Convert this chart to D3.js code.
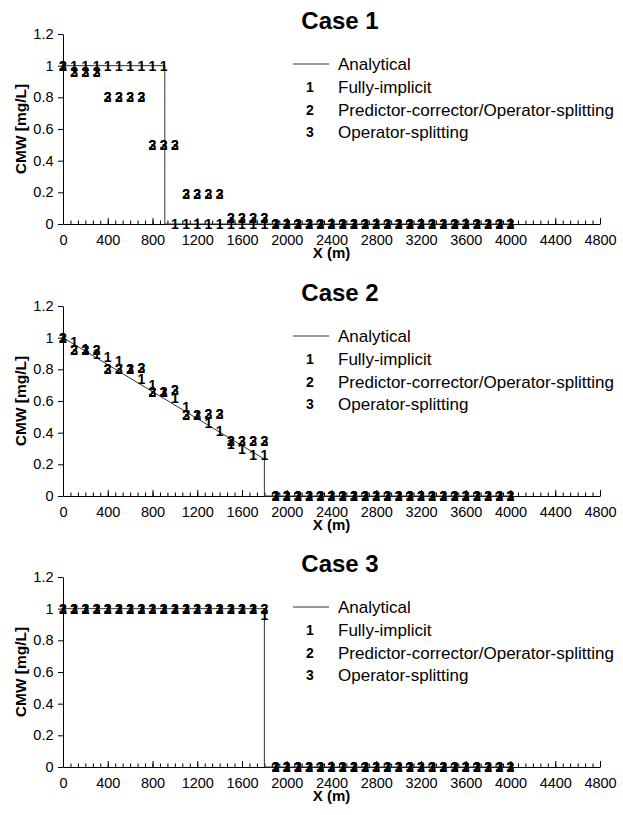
<!DOCTYPE html>
<html>
<head>
<meta charset="utf-8">
<script src="https://cdn.jsdelivr.net/npm/d3@7"></script>
<style>
  body { margin: 0; background: #fff; }
  svg { display: block; font-family: "Liberation Sans", Arial, sans-serif; }
</style>
</head>
<body>
<svg id="drawing"></svg>
<script>
// sample positions (m)
const xMeters = [
    0, 100, 200, 300, 400, 500, 600, 700, 800, 900,
    1000, 1100, 1200, 1300, 1400, 1500, 1600, 1700, 1800, 1900,
    2000, 2100, 2200, 2300, 2400, 2500, 2600, 2700, 2800, 2900,
    3000, 3100, 3200, 3300, 3400, 3500, 3600, 3700, 3800, 3900,
    4000];

// Case 1
const case1Fully = [
    1, 1, 1, 1, 1, 1, 1, 1, 1, 1,
    0, 0, 0, 0, 0, 0, 0, 0, 0, 0,
    0, 0, 0, 0, 0, 0, 0, 0, 0, 0,
    0, 0, 0, 0, 0, 0, 0, 0, 0, 0,
    0];
const case1Pred = [
    1, 0.96, 0.96, 0.96, 0.8, 0.8, 0.8, 0.8, 0.5, 0.5,
    0.5, 0.19, 0.19, 0.19, 0.19, 0.035, 0.035, 0.035, 0.035, 0,
    0, 0, 0, 0, 0, 0, 0, 0, 0, 0,
    0, 0, 0, 0, 0, 0, 0, 0, 0, 0,
    0];
const case1Oper = [
    1, 0.96, 0.96, 0.96, 0.8, 0.8, 0.8, 0.8, 0.5, 0.5,
    0.5, 0.19, 0.19, 0.19, 0.19, 0.035, 0.035, 0.035, 0.035, 0,
    0, 0, 0, 0, 0, 0, 0, 0, 0, 0,
    0, 0, 0, 0, 0, 0, 0, 0, 0, 0,
    0];
const case1AnalyticX = [0, 910, 910, 4000];
const case1AnalyticC = [1, 1, 0, 0];

// Case 2
const case2Fully = [
    1, 0.97, 0.93, 0.9, 0.88, 0.85, 0.8, 0.74, 0.7, 0.66,
    0.62, 0.56, 0.51, 0.46, 0.41, 0.33, 0.3, 0.26, 0.26, 0,
    0, 0, 0, 0, 0, 0, 0, 0, 0, 0,
    0, 0, 0, 0, 0, 0, 0, 0, 0, 0,
    0];
const case2Pred = [
    1, 0.92, 0.92, 0.92, 0.8, 0.8, 0.8, 0.81, 0.66, 0.66,
    0.67, 0.51, 0.51, 0.52, 0.52, 0.35, 0.35, 0.35, 0.35, 0,
    0, 0, 0, 0, 0, 0, 0, 0, 0, 0,
    0, 0, 0, 0, 0, 0, 0, 0, 0, 0,
    0];
const case2Oper = [
    1, 0.92, 0.92, 0.92, 0.8, 0.8, 0.8, 0.81, 0.66, 0.66,
    0.67, 0.51, 0.51, 0.52, 0.52, 0.35, 0.35, 0.35, 0.35, 0,
    0, 0, 0, 0, 0, 0, 0, 0, 0, 0,
    0, 0, 0, 0, 0, 0, 0, 0, 0, 0,
    0];
const case2AnalyticX = [0, 1800, 1800, 4000];
const case2AnalyticC = [1, 0.233, 0, 0];

// Case 3
const case3Fully = [
    1, 1, 1, 1, 1, 1, 1, 1, 1, 1,
    1, 1, 1, 1, 1, 1, 1, 1, 0.96, 0,
    0, 0, 0, 0, 0, 0, 0, 0, 0, 0,
    0, 0, 0, 0, 0, 0, 0, 0, 0, 0,
    0];
const case3Pred = [
    1, 1, 1, 1, 1, 1, 1, 1, 1, 1,
    1, 1, 1, 1, 1, 1, 1, 1, 1, 0,
    0, 0, 0, 0, 0, 0, 0, 0, 0, 0,
    0, 0, 0, 0, 0, 0, 0, 0, 0, 0,
    0];
const case3Oper = [
    1, 1, 1, 1, 1, 1, 1, 1, 1, 1,
    1, 1, 1, 1, 1, 1, 1, 1, 1, 0,
    0, 0, 0, 0, 0, 0, 0, 0, 0, 0,
    0, 0, 0, 0, 0, 0, 0, 0, 0, 0,
    0];
const case3AnalyticX = [0, 1800, 1800, 4000];
const case3AnalyticC = [1, 1, 0, 0];

// axes and legend
const xTicks = [0, 400, 800, 1200, 1600, 2000, 2400, 2800, 3200, 3600, 4000, 4400, 4800];
const yTicks = [0, 0.2, 0.4, 0.6, 0.8, 1, 1.2];
const seriesMarks = ['1', '2', '3'];
const legendNames = ['Analytical', 'Fully-implicit', 'Predictor-corrector/Operator-splitting', 'Operator-splitting'];


class CaseChart {

    constructor( config, inputdata ) {
        this.config = {
            parent: config.parent,
            top: config.top,
            title: config.title,
            left: 63,
            right: 600,
            height: 190
        }
        this.inputdata = inputdata;
        this.init();
    }

    init() {
        let self = this;

        self.chart = self.config.parent.append('g')
            .attr('transform', `translate(0, ${self.config.top})`);

        self.xscale = d3.scaleLinear()
            .domain( [0, 4800] )
            .range( [self.config.left, self.config.right] );

        self.yscale = d3.scaleLinear()
            .domain( [0, 1.2] )
            .range( [self.config.height, 0] );

        self.line = d3.line()
            .x( d => self.xscale( d.x ) )
            .y( d => self.yscale( d.c ) );
    }

    render() {
        let self = this;
        const h = self.config.height;

        // minor ticks on x (6 per major interval)
        self.chart.append('g')
            .attr('transform', `translate(0, ${h})`)
            .call( d3.axisBottom( self.xscale )
                .tickValues( d3.range(0, 4800.1, 400/6) )
                .tickSizeInner(-3.5)
                .tickSizeOuter(0)
                .tickFormat('') )
            .call( g => g.select('.domain').remove() );

        const xaxis_group = self.chart.append('g')
            .attr('transform', `translate(0, ${h})`)
            .call( d3.axisBottom( self.xscale )
                .tickValues( xTicks )
                .tickSizeInner(-6)
                .tickSizeOuter(0)
                .tickPadding(11)
                .tickFormat( d => String(d) ) );
        xaxis_group.selectAll('text')
            .attr('font-size', '14.5px')
            .attr('font-family', '"Liberation Sans", Arial, sans-serif')
            .attr('fill', '#000');

        const yaxis_group = self.chart.append('g')
            .attr('transform', `translate(${self.config.left}, 0)`)
            .call( d3.axisLeft( self.yscale )
                .tickValues( yTicks )
                .tickSizeInner(5)
                .tickSizeOuter(0)
                .tickPadding(4.5)
                .tickFormat( d => String(+d.toFixed(1)) ) );
        yaxis_group.selectAll('text')
            .attr('font-size', '14.5px')
            .attr('font-family', '"Liberation Sans", Arial, sans-serif')
            .attr('fill', '#000');

        self.chart.selectAll('.domain, .tick line').attr('stroke', '#000');

        // analytical solution
        self.chart.append('path')
            .attr('d', self.line( self.inputdata.analytic ))
            .attr('stroke', '#333')
            .attr('stroke-width', 1)
            .attr('fill', 'none');

        // numerical series drawn as digit markers
        self.inputdata.series.forEach( (s, i) => {
            self.chart.append('g')
                .selectAll('text')
                .data( s )
                .enter()
                .append('text')
                .attr('x', d => self.xscale( d.x ))
                .attr('y', d => self.yscale( d.c ))
                .attr('dy', '0.36em')
                .attr('text-anchor', 'middle')
                .attr('font-weight', 'bold')
                .attr('font-size', '14px')
                .text( seriesMarks[i] );
        });

        // titles
        self.chart.append('text')
            .attr('x', 340)
            .attr('y', -14)
            .attr('dy', '0.36em')
            .attr('text-anchor', 'middle')
            .attr('font-weight', 'bold')
            .attr('font-size', '24px')
            .text( self.config.title );

        self.chart.append('text')
            .attr('x', (self.config.left + self.config.right) / 2)
            .attr('y', h + 29)
            .attr('dy', '0.36em')
            .attr('text-anchor', 'middle')
            .attr('font-weight', 'bold')
            .attr('font-size', '15px')
            .text('X (m)');

        self.chart.append('text')
            .attr('transform', `translate(20, ${h/2}) rotate(-90)`)
            .attr('dy', '0.36em')
            .attr('text-anchor', 'middle')
            .attr('font-weight', 'bold')
            .attr('font-size', '15.5px')
            .text('CMW [mg/L]');

        // legend
        const rows = [30, 53, 76, 98];
        const legend = self.chart.append('g');
        legend.append('line')
            .attr('x1', 293).attr('x2', 329)
            .attr('y1', rows[0]).attr('y2', rows[0])
            .attr('stroke', '#333')
            .attr('stroke-width', 1);
        seriesMarks.forEach( (m, i) => {
            legend.append('text')
                .attr('x', 310)
                .attr('y', rows[i+1])
                .attr('dy', '0.36em')
                .attr('text-anchor', 'middle')
                .attr('font-weight', 'bold')
                .attr('font-size', '14px')
                .text( m );
        });
        legendNames.forEach( (name, i) => {
            legend.append('text')
                .attr('x', 338)
                .attr('y', rows[i])
                .attr('dy', '0.36em')
                .attr('font-size', '17px')
                .text( name );
        });
    }
}

function toPoints( xs, cs ) {
    return xs.map( (x, i) => ({ x: x, c: cs[i] }) );
}

const svg = d3.select('#drawing')
    .attr('width', 623)
    .attr('height', 815);

svg.append('rect').attr('width', 623).attr('height', 815).attr('fill', '#fff');

const cases = [
    { title: 'Case 1', top: 34,
      analytic: toPoints( case1AnalyticX, case1AnalyticC ),
      series: [case1Fully, case1Pred, case1Oper] },
    { title: 'Case 2', top: 306,
      analytic: toPoints( case2AnalyticX, case2AnalyticC ),
      series: [case2Fully, case2Pred, case2Oper] },
    { title: 'Case 3', top: 577,
      analytic: toPoints( case3AnalyticX, case3AnalyticC ),
      series: [case3Fully, case3Pred, case3Oper] }
];

cases.forEach( c => {
    const chart = new CaseChart(
        { parent: svg, top: c.top, title: c.title },
        { analytic: c.analytic, series: c.series.map( s => toPoints( xMeters, s ) ) }
    );
    chart.render();
});
</script>
</body>
</html>
